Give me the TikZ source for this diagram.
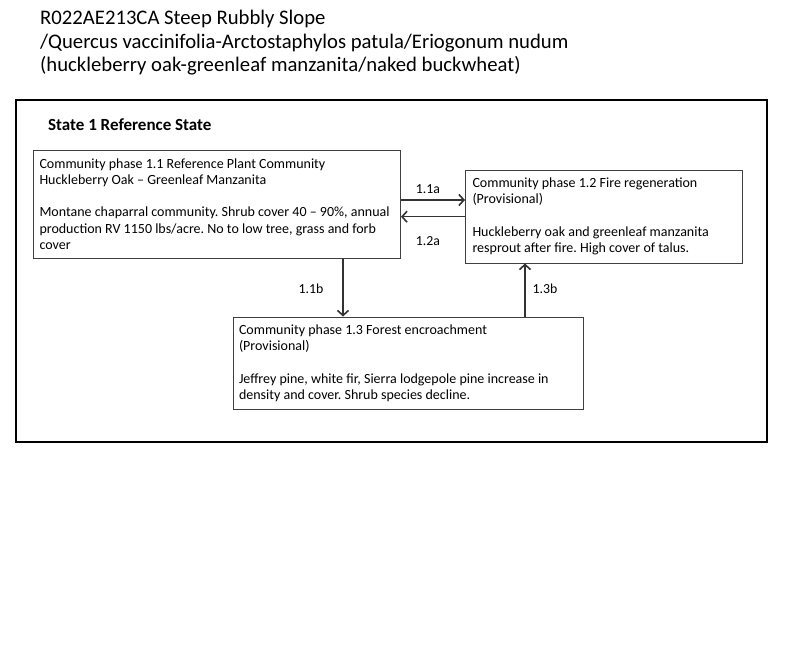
\documentclass[tikz,border=0pt]{standalone}
\usepackage{fontspec}
\setmainfont{Carlito}
\usetikzlibrary{arrows.meta,calc}
\begin{document}
\frenchspacing
\begin{tikzpicture}[x=1pt,y=-1pt,
  phasebox/.style={draw=black!75,line width=1pt,rectangle,align=flush left,inner xsep=6pt,inner ysep=0pt,
    font=\fontsize{14}{16.3}\selectfont,anchor=center},
  arr/.style={line width=1.2pt,draw=black!80,-{Straight Barb[length=5pt,width=11pt,line width=1.6pt]}},
  lbl/.style={font=\fontsize{13.8}{15}\selectfont,inner sep=0pt},
  title/.style={font=\fontsize{20.7}{23}\selectfont,anchor=west,inner sep=0pt}]
\useasboundingbox (0,0) rectangle (800,651);
\fill[white] (0,0) rectangle (800,651);
\node[title] (t1) at (40,19) {R022AE213CA Steep Rubbly Slope};
\node[title] (t2) at (40,43) {/Quercus vaccinifolia-Arctostaphylos patula/Eriogonum nudum};
\node[title] (t3) at (40,66) {(huckleberry oak-greenleaf manzanita/naked buckwheat)};
\node[draw=black,line width=2pt,minimum width=751pt,minimum height=342pt,inner sep=0pt] (state) at (391.5,271) {};
\node[font=\fontsize{17}{19}\selectfont\bfseries,anchor=west,inner sep=0pt] (st) at (48,125) {State 1 Reference State};
\node[phasebox,minimum width=367pt,minimum height=108pt,text width=355pt] (b11) at (217,204)
  {Community phase 1.1 Reference Plant Community\\Huckleberry Oak – Greenleaf Manzanita\\[16.3pt]Montane chaparral community. Shrub cover 40 – 90\%, annual\\production RV 1150 lbs/acre. No to low tree, grass and forb\\cover};
\node[phasebox,minimum width=277pt,minimum height=93pt,text width=263pt,inner xsep=7pt] (b12) at (604,216.5)
  {Community phase 1.2 Fire regeneration\\(Provisional)\\[16.3pt]Huckleberry oak and greenleaf manzanita\\resprout after fire. High cover of talus.};
\node[phasebox,minimum width=350pt,minimum height=92pt,text width=338pt] (b13) at (408,363)
  {Community phase 1.3 Forest encroachment\\(Provisional)\\[16.3pt]Jeffrey pine, white fir, Sierra lodgepole pine increase in\\density and cover. Shrub species decline.};
\coordinate (a1s) at ([yshift=4pt]b11.east);
\draw[arr] (a1s) -- (a1s -| b12.west);
\coordinate (a2s) at ([yshift=-0.2pt]b12.west);
\draw[arr] (a2s) -- (a2s -| b11.east);
\coordinate (a3s) at ([xshift=126pt]b11.south);
\draw[arr] (a3s) -- (a3s |- b13.north);
\coordinate (a4s) at ([xshift=117pt]b13.north);
\draw[arr] (a4s) -- (a4s |- b12.south);
\node[lbl] (l11a) at (428,189) {1.1a};
\node[lbl] (l12a) at (428,241) {1.2a};
\node[lbl] (l11b) at (311,289) {1.1b};
\node[lbl] (l13b) at (545,289) {1.3b};
\end{tikzpicture}
\end{document}
